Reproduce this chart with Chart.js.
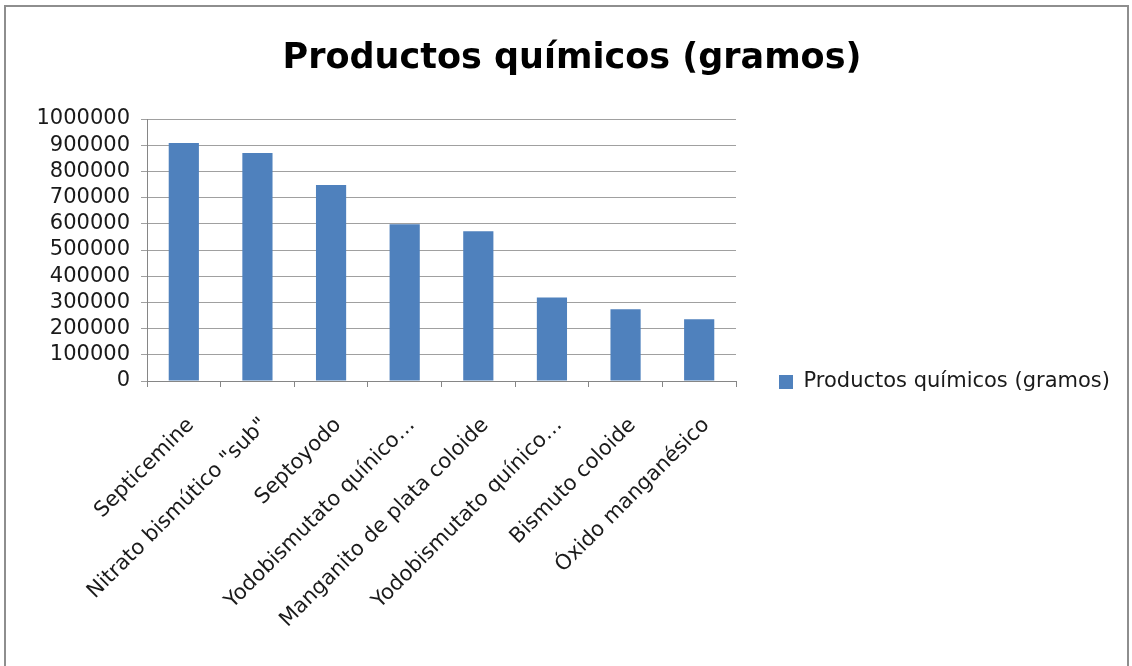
<!DOCTYPE html>
<html>
<head>
<meta charset="utf-8">
<script src="https://cdn.jsdelivr.net/npm/chart.js@4/dist/chart.umd.min.js"></script>
<style>
  html, body { margin: 0; padding: 0; background: #fff; }
  #wrap { position: relative; width: 1132px; height: 666px; overflow: hidden; }
  #frame {
    position: absolute; left: 4px; top: 5px; width: 1121px; height: 700px;
    border: 2px solid #8e8e8e; pointer-events: none;
  }
  canvas { position: absolute; left: 0; top: 0; }
</style>
</head>
<body>
<div id="wrap">
  <canvas id="chart" width="1132" height="666"></canvas>
  <div id="frame"></div>
</div>
<script>
const productos = [
  'Septicemine',
  'Nitrato bismútico "sub"',
  'Septoyodo',
  'Yodobismutato quínico…',
  'Manganito de plata coloide',
  'Yodobismutato quínico…',
  'Bismuto coloide',
  'Óxido manganésico'
];
const gramos = [908000, 870000, 748000, 598000, 572000, 319000, 274000, 236000];
const serieNombre = 'Productos químicos (gramos)';
const yMax = 1000000;
const yPaso = 100000;

const fuente = 'DejaVu Sans';
const azul = '#4f81bd';
const texto = '#1a1a1a';

// baja la leyenda para que quede a la altura del eje X
const leyendaAbajo = {
  id: 'leyendaAbajo',
  afterLayout(chart) {
    chart.legend.top += 33;
    chart.legend.bottom += 33;
  }
};

new Chart(document.getElementById('chart').getContext('2d'), {
  type: 'bar',
  data: {
    labels: productos,
    datasets: [{
      label: serieNombre,
      data: gramos,
      backgroundColor: azul,
      borderWidth: 0,
      categoryPercentage: 1,
      barPercentage: 0.41
    }]
  },
  plugins: [leyendaAbajo],
  options: {
    responsive: false,
    animation: false,
    layout: { padding: { left: 28, right: 16, top: 38, bottom: 6 } },
    plugins: {
      title: {
        display: true,
        text: 'Productos químicos (gramos)',
        color: '#000',
        font: { family: fuente, size: 35, weight: 'bold' },
        padding: { top: 0, bottom: 39 }
      },
      legend: {
        position: 'right',
        maxWidth: 380,
        labels: {
          color: texto,
          font: { family: fuente, size: 21 },
          boxWidth: 14,
          boxHeight: 14,
          padding: 43
        }
      },
      tooltip: { enabled: false }
    },
    scales: {
      x: {
        grid: { display: true, drawOnChartArea: false, color: '#868686', tickLength: 6 },
        border: { color: '#868686' },
        ticks: {
          color: texto,
          font: { family: fuente, size: 21 },
          minRotation: 45,
          maxRotation: 45,
          autoSkip: false,
          padding: 26,
          labelOffset: 7
        },
        afterFit: scale => { scale.height = 279; }
      },
      y: {
        min: 0,
        max: yMax,
        ticks: {
          stepSize: yPaso,
          autoSkip: false,
          color: texto,
          font: { family: fuente, size: 21 },
          padding: 11,
          callback: v => String(v)
        },
        grid: { color: '#a0a0a0', tickLength: 6 },
        border: { color: '#868686' },
        afterFit: scale => { scale.width = 119; }
      }
    }
  }
});
</script>
</body>
</html>
